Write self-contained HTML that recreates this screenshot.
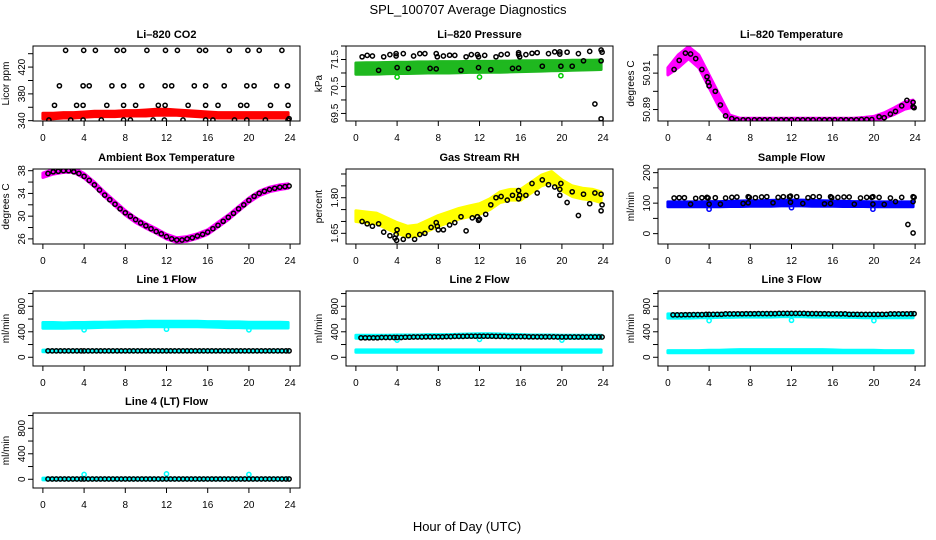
<!DOCTYPE html>
<html><head><meta charset="utf-8"><style>
html,body{margin:0;padding:0;background:#fff;}
svg{display:block;font-family:"Liberation Sans",Arial,sans-serif;}
</style></head><body>
<svg id="chart" width="936" height="540" viewBox="0 0 936 540" xmlns="http://www.w3.org/2000/svg">
<text x="468" y="14" text-anchor="middle" font-size="13">SPL_100707  Average Diagnostics</text>
<text x="467" y="531" text-anchor="middle" font-size="13">Hour of Day (UTC)</text>
</svg>
<script>
// ---------- shared ----------
const xTicks = [0,4,8,12,16,20,24];
const bandHours = [0,1,2,3,4,5,6,7,8,9,10,11,12,13,14,15,16,17,18,19,20,21,22,23,23.8];
const flowHours = [0.5,0.9,1.3,1.7,2.1,2.5,2.9,3.3,3.7,4.0,4.4,4.8,5.2,5.6,6.0,6.4,6.8,7.2,7.6,8.0,8.4,8.8,9.2,9.6,10.0,10.4,10.8,11.2,11.6,12.0,12.4,12.8,13.2,13.6,14.0,14.4,14.8,15.2,15.6,16.0,16.4,16.8,17.2,17.6,18.0,18.4,18.8,19.2,19.6,20.0,20.4,20.8,21.2,21.6,22.0,22.4,22.8,23.2,23.6,23.9];
const flowOutHours = [4,12,20];

// ---------- CO2 ----------
const co2Ticks = [340,360,380,400,420,440];
const co2Labels = ['340','','380','','420',''];
const co2Lo = [343,343,344,344,345,346,346,346,347,347,347,348,348,348,347,346,345,344,344,344,344,344,344,344,344];
const co2Hi = [351,351,352,352,353,354,354,354,355,355,356,357,357,356,355,354,353,352,352,352,352,352,352,352,352];
const co2Hours = [2.2,3.96,5.1,7.2,7.84,10.1,11.9,13.06,15.2,15.8,18.1,19.9,21.0,23.2,
 1.6,3.9,4.5,6.7,7.84,9.6,11.86,12.5,14.7,15.8,17.6,19.8,20.5,22.7,23.75,
 1.13,3.27,3.9,6.2,7.84,9.0,11.2,11.86,14.1,15.8,17.0,19.2,19.8,22.1,23.8,
 0.58,2.7,3.9,5.67,7.84,8.5,10.7,11.8,13.6,15.8,16.5,18.6,19.8,21.6,23.8,23.9];
const co2Vals = [445,445,445,445,445,445,445,445,445,445,445,445,445,445,
 392,392,392,392,392,392,392,392,392,392,392,392,392,392,392,
 363,363,363,363,363,363,363,363,363,363,363,363,363,363,363,
 341,341,341,341,341,341,341,341,341,341,341,341,341,341,341,343];

// ---------- Pressure ----------
const presTicks = [69.5,70.0,70.5,71.0,71.5,72.0];
const presLabels = ['69.5','','70.5','','71.5',''];
const presLo = [70.95,70.95,70.96,70.97,70.98,70.98,70.99,71.0,71.0,71.0,71.01,71.02,71.02,71.03,71.03,71.04,71.05,71.06,71.07,71.08,71.09,71.1,71.11,71.12,71.13];
const presHi = [71.37,71.38,71.38,71.39,71.4,71.4,71.41,71.41,71.42,71.42,71.42,71.43,71.43,71.43,71.44,71.44,71.45,71.45,71.46,71.46,71.46,71.47,71.47,71.47,71.48];
const presHours = [0.6,1.1,1.6,2.7,3.3,3.9,3.9,4.6,5.6,6.2,6.7,7.8,7.9,8.5,9.1,9.6,10.7,11.2,11.8,11.9,12.5,13.6,14.1,14.7,15.8,15.8,15.9,16.5,17.1,17.6,18.7,19.3,19.8,19.8,20.5,21.6,22.7,23.8,23.9,
 2.2,4.0,5.1,7.2,7.8,10.2,11.9,13.1,15.2,15.8,18.1,19.9,21.0,22.1,23.8,23.2,23.8];
const presVals = [71.6,71.65,71.63,71.6,71.68,71.72,71.63,71.72,71.63,71.72,71.72,71.72,71.6,71.63,71.66,71.65,71.6,71.68,71.68,71.6,71.65,71.6,71.68,71.7,71.75,71.68,71.6,71.68,71.73,71.75,71.72,71.78,71.78,71.7,71.77,71.72,71.8,71.85,71.77,
 71.1,71.2,71.17,71.17,71.15,71.1,71.2,71.12,71.17,71.18,71.25,71.25,71.25,71.45,71.45,69.85,69.3];
const presOutHours = [4.0,12.0,19.9];
const presOutVals = [70.85,70.85,70.9];

// ---------- Li-820 Temperature ----------
const tmpTicks = [50.89,50.90,50.91,50.92];
const tmpLabels = ['50.89','','50.91',''];
const tmpLo = [50.909,50.913,50.918,50.913,50.902,50.891,50.8842,50.8836,50.8836,50.8836,50.8836,50.8836,50.8836,50.8836,50.8836,50.8836,50.8836,50.8836,50.8836,50.8836,50.8838,50.8852,50.8874,50.8902,50.8912];
const tmpHi = [50.913,50.920,50.9245,50.920,50.909,50.898,50.8870,50.8852,50.8852,50.8852,50.8852,50.8852,50.8852,50.8852,50.8852,50.8852,50.8852,50.8852,50.8852,50.8856,50.8862,50.8882,50.8910,50.8942,50.8952];
const tmpHours = [0.6,1.1,1.7,2.2,2.7,3.3,3.8,3.9,4.0,4.6,5.1,5.6,6.2,6.7,7.3,7.8,8.4,8.9,9.4,9.9,10.5,11.0,11.5,12.0,12.6,13.1,13.6,14.1,14.7,15.2,15.7,16.2,16.8,17.3,17.8,18.3,18.8,19.3,19.8,20.5,21.0,21.6,22.1,22.7,23.2,23.8,23.9,23.8];
const tmpVals = [50.912,50.917,50.921,50.9205,50.918,50.912,50.908,50.905,50.903,50.900,50.8925,50.8865,50.885,50.8843,50.8843,50.8843,50.8843,50.8843,50.8843,50.8843,50.8843,50.8843,50.8843,50.8843,50.8843,50.8843,50.8843,50.8843,50.8843,50.8843,50.8843,50.8843,50.8843,50.8843,50.8843,50.8843,50.8845,50.8845,50.8845,50.886,50.8855,50.8875,50.889,50.892,50.895,50.894,50.891,50.8915];

// ---------- Ambient Box Temperature ----------
const ambTicks = [26,28,30,32,34,36,38];
const ambLabels = ['26','','30','','34','','38'];
const ambLo = [36.8,37.4,37.7,37.7,36.7,35.2,33.4,31.8,30.2,28.9,27.9,27.0,26.0,25.4,25.6,26.1,26.8,28.1,29.4,30.9,32.4,33.6,34.3,34.7,34.9];
const ambHi = [37.6,38.2,38.5,38.5,37.5,36.0,34.2,32.6,31.0,29.7,28.7,27.8,26.8,26.2,26.4,26.9,27.6,28.9,30.2,31.7,33.2,34.4,35.1,35.5,35.7];
const ambHours = [0.5,1.0,1.5,2.0,2.5,3.0,3.5,4.0,4.5,5.0,5.5,6.0,6.5,7.0,7.5,8.0,8.5,9.0,9.5,10.0,10.5,11.0,11.5,12.0,12.5,13.0,13.5,14.0,14.5,15.0,15.5,16.0,16.5,17.0,17.5,18.0,18.5,19.0,19.5,20.0,20.5,21.0,21.5,22.0,22.5,23.0,23.5,23.9];
const ambVals = [37.5,37.8,37.9,38.0,38.0,37.8,37.5,37.0,36.3,35.5,34.6,33.7,32.9,32.1,31.3,30.6,30.0,29.4,28.8,28.3,27.8,27.3,26.9,26.4,26.0,25.8,25.8,26.0,26.2,26.5,26.8,27.2,27.8,28.4,29.1,29.8,30.5,31.3,32.0,32.8,33.5,34.0,34.4,34.7,34.9,35.1,35.2,35.3];

// ---------- Gas Stream RH ----------
const rhTicks = [1.65,1.70,1.75,1.80,1.85,1.90];
const rhLabels = ['1.65','','','1.80','',''];
const rhLo = [1.70,1.695,1.69,1.67,1.65,1.635,1.64,1.66,1.68,1.695,1.71,1.72,1.73,1.75,1.78,1.79,1.79,1.82,1.85,1.865,1.83,1.805,1.795,1.79,1.78];
const rhHi = [1.745,1.74,1.735,1.715,1.695,1.68,1.685,1.705,1.725,1.74,1.755,1.765,1.775,1.795,1.825,1.835,1.835,1.865,1.895,1.91,1.875,1.85,1.84,1.835,1.825];
const rhHours = [0.6,1.1,1.6,2.2,2.7,3.3,3.8,3.9,4.0,3.95,4.6,5.1,5.7,6.2,6.7,7.3,7.8,7.9,8.0,8.5,9.1,9.6,10.2,10.7,11.3,11.8,11.9,12.0,12.6,13.1,13.6,14.1,14.7,15.2,15.8,15.8,15.9,16.5,17.1,17.6,18.1,18.7,19.3,19.8,19.9,19.8,20.5,21.0,21.6,22.1,22.7,23.2,23.8,23.9,23.8];
const rhVals = [1.70,1.69,1.68,1.69,1.655,1.64,1.63,1.645,1.665,1.62,1.625,1.64,1.625,1.645,1.65,1.675,1.695,1.68,1.665,1.665,1.685,1.695,1.72,1.66,1.715,1.72,1.705,1.71,1.73,1.77,1.80,1.805,1.79,1.81,1.83,1.795,1.81,1.81,1.86,1.82,1.875,1.855,1.845,1.835,1.86,1.81,1.78,1.825,1.725,1.815,1.775,1.82,1.815,1.77,1.745];

// ---------- Sample Flow ----------
const sfTicks = [0,50,100,150,200];
const sfLabels = ['0','','100','','200'];
const sfLo = [88,88,88,88,88,88,89,89,90,90,90,91,91,91,90,90,90,89,89,89,88,88,88,88,88];
const sfHi = [104,104,104,104,105,105,106,107,108,108,109,110,110,110,109,108,107,106,105,105,104,104,104,104,104];
const sfHours = [0.6,1.1,1.6,2.7,3.3,3.8,3.9,4.6,5.6,6.2,6.7,7.8,7.9,8.5,9.1,9.6,10.7,11.2,11.8,11.9,12.5,13.6,14.1,14.7,15.8,15.9,16.5,17.1,17.6,18.7,19.3,19.8,19.9,20.5,21.6,22.7,23.8,23.9,
 2.2,4.0,5.1,7.3,7.8,10.2,11.9,13.1,15.2,15.8,18.1,19.9,21.0,22.1,23.8,23.3,23.8];
const sfVals = [117,118,118,116,118,119,117,118,117,119,120,121,119,118,120,121,119,121,121,123,121,118,121,121,121,118,119,120,120,117,119,119,121,119,117,119,121,119,
 97,97,97,99,101,101,103,99,98,99,97,97,96,105,105,30,2];
const sfOutHours = [4.0,12.0,19.9];
const sfOutVals = [80,85,80];

// ---------- Line flows ----------
const flowTicks = [0,200,400,600,800,1000];
const flowLabels = ['0','','400','','800',''];
const l1HiLo = [455,455,455,460,460,465,470,470,475,475,480,480,480,480,480,480,475,470,465,465,460,460,460,460,460];
const l1HiHi = [545,545,540,545,545,550,550,555,560,560,565,565,565,565,565,565,560,560,555,555,550,550,550,550,545];
const l1LoLo = [88,88,88,88,88,88,88,88,88,88,88,88,88,88,88,88,88,88,88,88,88,88,88,88,88];
const l1LoHi = [112,112,112,112,112,112,112,112,112,112,112,112,112,112,112,112,112,112,112,112,112,112,112,112,112];
const l1Black = [100,100,100,100,100,100,100,100,100,100,100,100,100,100,100,100,100,100,100,100,100,100,100,100,100];
const l1Out = [430,440,430];
const l2HiLo = [300,300,300,300,300,305,305,305,310,310,310,315,315,315,315,310,310,305,305,305,300,300,300,300,300];
const l2HiHi = [345,345,345,345,350,350,350,355,355,355,360,365,370,370,365,360,355,350,350,350,345,345,345,345,345];
const l2LoLo = [80,80,80,80,80,80,80,80,80,80,80,80,80,80,80,80,80,80,80,80,80,80,80,80,80];
const l2LoHi = [115,115,115,115,115,115,115,115,115,115,115,115,115,115,115,115,115,115,115,115,115,115,115,115,115];
const l2Black = [305,305,305,310,310,315,318,320,322,325,328,330,330,330,328,325,325,322,320,320,318,318,318,318,318];
const l2Out = [270,280,270];
const l3HiLo = [615,615,615,620,620,625,625,630,630,630,630,635,635,635,630,630,630,625,625,620,620,620,620,620,620];
const l3HiHi = [680,680,680,685,685,690,690,695,695,700,700,700,700,700,695,695,695,690,690,685,685,685,690,690,690];
const l3LoLo = [70,70,70,70,70,70,70,72,72,72,72,72,72,72,72,72,70,70,70,70,70,70,70,70,70];
const l3LoHi = [105,105,105,105,110,110,115,120,120,120,120,120,120,120,120,120,115,110,110,110,110,105,105,105,105];
const l3Black = [665,665,668,670,672,675,680,682,684,685,686,688,688,688,686,684,680,680,675,672,672,675,680,682,684];
const l3Out = [575,580,575];
const l4LoLo = [-10,-10,-10,-10,-10,-10,-10,-10,-10,-10,-10,-10,-10,-10,-10,-10,-10,-10,-10,-10,-10,-10,-10,-10,-10];
const l4LoHi = [18,18,18,18,18,18,18,18,18,18,18,18,18,18,18,18,18,18,18,18,18,18,18,18,18];
const l4Black = [5,5,5,5,5,5,5,5,5,5,5,5,5,5,5,5,5,5,5,5,5,5,5,5,5];
const l4Out = [75,85,75];

// ---------- geometry ----------
const COLS = [33,346,658], ROWS = [46,169,291,413], PW = 267, PH = 75;
const NS = 'http://www.w3.org/2000/svg';
const svg = document.getElementById('chart');
function mk(tag, attrs, parent){ const e=document.createElementNS(NS,tag); for(const k in attrs) e.setAttribute(k,attrs[k]); (parent||svg).appendChild(e); return e; }
function lookup(arr,h){ return arr[Math.min(24,Math.round(h))]; }

function panel(id, col, row, title, ylab, ylim, ticks, labels, series){
  const L=COLS[col], T=ROWS[row];
  const xs = h => L + (h+0.96)/25.92*PW;
  const ys = v => T + PH - (v-ylim[0])/(ylim[1]-ylim[0])*PH;
  const g = mk('g',{});
  
  
  const cp = mk('clipPath',{id:'clip-'+id}, g);
  mk('rect',{x:L,y:T,width:PW,height:PH}, cp);
  const plot = mk('g',{'clip-path':'url(#clip-'+id+')'}, g);
  
  
  series.forEach(s=>{
    if(s.type==='band'){
      let pts=[];
      s.h.forEach((h,i)=>pts.push(xs(h).toFixed(1)+','+ys(s.hi[i]).toFixed(1)));
      for(let i=s.h.length-1;i>=0;i--) pts.push(xs(s.h[i]).toFixed(1)+','+ys(s.lo[i]).toFixed(1));
      const p = mk('polygon',{points:pts.join(' '),fill:s.color,stroke:s.color,'stroke-width':3,'stroke-linejoin':'round'}, plot);
      
      
    } else {
      s.x.forEach((h,i)=>{
        const v = s.y ? s.y[i] : lookup(s.yh,h);
        const c = mk('circle',{cx:xs(h).toFixed(1),cy:ys(v).toFixed(1),r:2.1,fill:'none',stroke:s.color,'stroke-width':1.5}, plot);
        
        
      });
    }
  });
  const box = mk('rect',{x:L,y:T,width:PW,height:PH,fill:'none',stroke:'#000','stroke-width':1}, g);
  
  
  const t = mk('text',{x:L+PW/2,y:T-8,'text-anchor':'middle','font-size':11,'font-weight':'bold'}, g);
  t.textContent = title;
  
  
  xTicks.forEach(h=>{
    const x=xs(h);
    mk('line',{x1:x,x2:x,y1:T+PH,y2:T+PH+5,stroke:'#000'}, g);
    const tl = mk('text',{x:x,y:T+PH+20,'text-anchor':'middle','font-size':10}, g);
    tl.textContent = h;
    
    
  });
  ticks.forEach((v,i)=>{
    const y=ys(v);
    if(y<T-1||y>T+PH+1) return;
    mk('line',{x1:L-5,x2:L,y1:y,y2:y,stroke:'#000'}, g);
    if(labels[i]){
      const tl = mk('text',{x:L-8,y:y,'text-anchor':'middle','font-size':10,transform:'rotate(-90 '+(L-8)+' '+y+')'}, g);
      tl.textContent = labels[i];
      
      
    }
  });
  const yl = mk('text',{x:L-24,y:T+PH/2,'text-anchor':'middle','font-size':10,transform:'rotate(-90 '+(L-24)+' '+(T+PH/2)+')'}, g);
  yl.textContent = ylab;
  
  
}

panel('co2',0,0,'Li\u2013820 CO2','Licor ppm',[339.5,451.5],co2Ticks,co2Labels,[
  {type:'band',h:bandHours,lo:co2Lo,hi:co2Hi,color:'#ff0000'},
  {type:'pts',x:co2Hours,y:co2Vals,color:'#000'}]);
panel('pressure',1,0,'Li\u2013820 Pressure','kPa',[69.22,72.0],presTicks,presLabels,[
  {type:'band',h:bandHours,lo:presLo,hi:presHi,color:'#1fb81f'},
  {type:'pts',x:presOutHours,y:presOutVals,color:'#00cc00'},
  {type:'pts',x:presHours,y:presVals,color:'#000'}]);
panel('li820-temp',2,0,'Li\u2013820 Temperature','degrees C',[50.8837,50.9249],tmpTicks,tmpLabels,[
  {type:'band',h:bandHours,lo:tmpLo,hi:tmpHi,color:'#ff00ff'},
  {type:'pts',x:tmpHours,y:tmpVals,color:'#000'}]);
panel('ambient-temp',0,1,'Ambient Box Temperature','degrees C',[25.1,38.3],ambTicks,ambLabels,[
  {type:'band',h:bandHours,lo:ambLo,hi:ambHi,color:'#ff00ff'},
  {type:'pts',x:ambHours,y:ambVals,color:'#000'}]);
panel('rh',1,1,'Gas Stream RH','percent',[1.605,1.921],rhTicks,rhLabels,[
  {type:'band',h:bandHours,lo:rhLo,hi:rhHi,color:'#ffff00'},
  {type:'pts',x:rhHours,y:rhVals,color:'#000'}]);
panel('sample-flow',2,1,'Sample Flow','ml/min',[-34,212],sfTicks,sfLabels,[
  {type:'band',h:bandHours,lo:sfLo,hi:sfHi,color:'#0000ff'},
  {type:'pts',x:sfOutHours,y:sfOutVals,color:'#0000ff'},
  {type:'pts',x:sfHours,y:sfVals,color:'#000'}]);
panel('line1',0,2,'Line 1 Flow','ml/min',[-137,1040],flowTicks,flowLabels,[
  {type:'band',h:bandHours,lo:l1HiLo,hi:l1HiHi,color:'#00ffff'},
  {type:'band',h:bandHours,lo:l1LoLo,hi:l1LoHi,color:'#00ffff'},
  {type:'pts',x:flowOutHours,y:l1Out,color:'#00ffff'},
  {type:'pts',x:flowHours,yh:l1Black,color:'#000'}]);
panel('line2',1,2,'Line 2 Flow','ml/min',[-137,1040],flowTicks,flowLabels,[
  {type:'band',h:bandHours,lo:l2HiLo,hi:l2HiHi,color:'#00ffff'},
  {type:'band',h:bandHours,lo:l2LoLo,hi:l2LoHi,color:'#00ffff'},
  {type:'pts',x:flowOutHours,y:l2Out,color:'#00ffff'},
  {type:'pts',x:flowHours,yh:l2Black,color:'#000'}]);
panel('line3',2,2,'Line 3 Flow','ml/min',[-137,1040],flowTicks,flowLabels,[
  {type:'band',h:bandHours,lo:l3HiLo,hi:l3HiHi,color:'#00ffff'},
  {type:'band',h:bandHours,lo:l3LoLo,hi:l3LoHi,color:'#00ffff'},
  {type:'pts',x:flowOutHours,y:l3Out,color:'#00ffff'},
  {type:'pts',x:flowHours,yh:l3Black,color:'#000'}]);
panel('line4',0,3,'Line 4 (LT) Flow','ml/min',[-137,1040],flowTicks,flowLabels,[
  {type:'band',h:bandHours,lo:l4LoLo,hi:l4LoHi,color:'#00ffff'},
  {type:'pts',x:flowOutHours,y:l4Out,color:'#00ffff'},
  {type:'pts',x:flowHours,yh:l4Black,color:'#000'}]);
</script>
</body></html>
